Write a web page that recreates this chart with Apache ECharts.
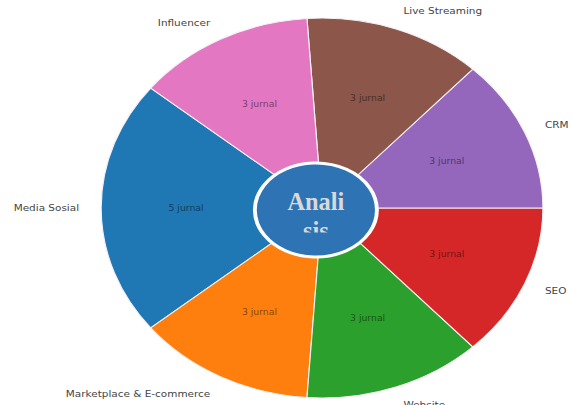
<!DOCTYPE html>
<html>
<head>
<meta charset="utf-8">
<script src="https://cdn.jsdelivr.net/npm/echarts@6/dist/echarts.min.js"></script>
<style>
html,body{margin:0;padding:0;background:#fff;overflow:hidden;}
#chart{width:492px;height:405px;transform:scaleX(1.1626);transform-origin:0 0;}
</style>
</head>
<body>
<div id="chart"></div>
<script>
const categories = ['Media Sosial', 'Marketplace & E-commerce', 'Website', 'SEO', 'CRM', 'Live Streaming', 'Influencer'];
const values = [5, 3, 3, 3, 3, 3, 3];
const valueLabels = ['5 jurnal', '3 jurnal', '3 jurnal', '3 jurnal', '3 jurnal', '3 jurnal', '3 jurnal'];
const centerLines = ['Anali', 'sis'];

const palette = ['#1f77b4', '#ff7f0e', '#2ca02c', '#d62728', '#9467bd', '#8c564b', '#e377c2'];
const total = values.reduce((a, b) => a + b, 0);
const startAngle = 180 - (values[0] / total) * 180;

const chart = echarts.init(document.getElementById('chart'), null, {renderer: 'svg'});
const cx = 277, cy = 208, R = 190;

chart.setOption({
  backgroundColor: '#ffffff',
  animation: false,
  series: [
    {
      type: 'pie',
      center: [cx, cy],
      radius: [0, R],
      startAngle: startAngle,
      clockwise: false,
      avoidLabelOverlap: false,
      silent: true,
      data: categories.map((c, i) => ({
        name: c, value: values[i],
        itemStyle: {color: palette[i]}
      })),
      itemStyle: {borderColor: '#f4f0f4', borderWidth: 1},
      label: {
        show: true, position: 'outside', formatter: '{b}',
        fontFamily: 'DejaVu Sans', fontSize: 9, color: '#444',
        distanceToLabelLine: 0
      },
      labelLine: {show: false, length: R * 0.1, length2: 0}
    },
    {
      type: 'pie',
      center: [cx, cy],
      radius: [0, R * 1.2],
      startAngle: startAngle,
      clockwise: false,
      avoidLabelOverlap: false,
      silent: true,
      data: categories.map((c, i) => ({
        name: c, value: values[i],
        label: {formatter: valueLabels[i]}
      })),
      itemStyle: {color: 'rgba(0,0,0,0)', borderWidth: 0},
      label: {
        show: true, position: 'inside',
        fontFamily: 'DejaVu Sans', fontSize: 8, color: 'rgba(0,0,0,0.5)'
      },
      labelLine: {show: false}
    }
  ],
  graphic: [
    {
      type: 'circle', x: 271.7, y: 210, z: 100, scaleX: 1.117,
      shape: {cx: 0, cy: 0, r: 47},
      style: {fill: '#2e74b5', stroke: '#ffffff', lineWidth: 3}
    },
    {
      type: 'text', x: 271.7, y: 218, z: 101, scaleY: 1.15,
      style: {text: centerLines[1], x: 0, y: 0, fill: '#d9d9d9',
        font: 'bold 21px "Liberation Serif", serif',
        align: 'center', verticalAlign: 'top', textAlign: 'center', textVerticalAlign: 'top'}
    },
    {
      type: 'rect', z: 102,
      shape: {x: 253, y: 232.5, width: 37, height: 19},
      style: {fill: '#2e74b5'}
    },
    {
      type: 'text', x: 271.7, y: 202, z: 103, scaleY: 1.15,
      style: {text: centerLines[0], x: 0, y: 0, fill: '#d9d9d9',
        font: 'bold 21px "Liberation Serif", serif',
        align: 'center', verticalAlign: 'middle', textAlign: 'center', textVerticalAlign: 'middle'}
    }
  ]
});
</script>
</body>
</html>
